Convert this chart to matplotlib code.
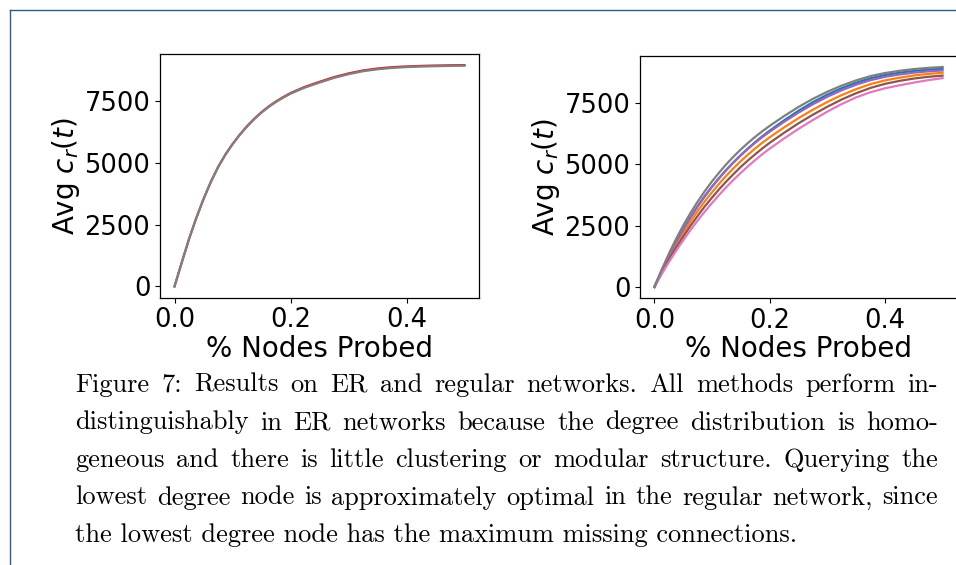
import matplotlib
matplotlib.use("Agg")
import matplotlib.pyplot as plt
from matplotlib.lines import Line2D

# fraction of nodes probed (shared x grid)
frac = [0.0, 0.0125, 0.025, 0.0375, 0.05, 0.0625, 0.075, 0.0875, 0.1, 0.1125,
        0.125, 0.1375, 0.15, 0.1625, 0.175, 0.1875, 0.2, 0.225, 0.25, 0.275,
        0.3, 0.325, 0.35, 0.375, 0.4, 0.425, 0.45, 0.475, 0.5]

# ER network: all methods overlap, only red and gray are visible
er_gray = [0, 970, 1920, 2770, 3540, 4230, 4830, 5330, 5760, 6140,
           6480, 6780, 7045, 7275, 7475, 7650, 7810, 8060, 8260, 8450,
           8600, 8720, 8800, 8855, 8888, 8910, 8925, 8936, 8945]
er_red = [0, 970, 1920, 2770, 3540, 4230, 4830, 5335, 5768, 6150,
          6493, 6795, 7062, 7295, 7497, 7674, 7836, 8090, 8292, 8482,
          8632, 8752, 8832, 8885, 8916, 8937, 8952, 8962, 8970]

# regular network
reg_blue = [0, 655, 1265, 1830, 2350, 2835, 3280, 3695, 4080, 4435,
            4768, 5073, 5366, 5636, 5894, 6134, 6356, 6775, 7165, 7515,
            7822, 8085, 8305, 8487, 8618, 8712, 8785, 8838, 8875]
reg_orange = [0, 610, 1180, 1710, 2200, 2660, 3085, 3485, 3855, 4205,
              4533, 4836, 5121, 5386, 5637, 5871, 6088, 6490, 6865, 7210,
              7525, 7805, 8045, 8250, 8400, 8510, 8600, 8665, 8710]
reg_purple = [0, 655, 1265, 1830, 2350, 2835, 3280, 3695, 4080, 4435,
              4768, 5073, 5358, 5621, 5869, 6099, 6313, 6715, 7090, 7430,
              7735, 8000, 8225, 8410, 8545, 8640, 8715, 8768, 8805]
reg_brown = [0, 565, 1095, 1590, 2050, 2485, 2890, 3280, 3635, 3980,
             4298, 4598, 4886, 5151, 5399, 5639, 5861, 6270, 6655, 7005,
             7330, 7625, 7880, 8095, 8260, 8380, 8475, 8545, 8595]
reg_pink = [0, 520, 1010, 1470, 1900, 2315, 2700, 3070, 3415, 3750,
            4068, 4363, 4646, 4911, 5164, 5404, 5626, 6040, 6430, 6790,
            7130, 7440, 7710, 7920, 8080, 8200, 8310, 8410, 8493]
reg_gray = [0, 700, 1350, 1950, 2500, 3005, 3470, 3900, 4295, 4660,
            4998, 5308, 5596, 5861, 6109, 6339, 6551, 6950, 7320, 7650,
            7940, 8190, 8400, 8575, 8700, 8790, 8860, 8910, 8945]

xticks = [0.0, 0.2, 0.4]
yticks = [0, 2500, 5000, 7500]

caption = [
    "Figure 7: Results on ER and regular networks. All methods perform in-",
    "distinguishably in ER networks because the degree distribution is homo-",
    "geneous and there is little clustering or modular structure. Querying the",
    "lowest degree node is approximately optimal in the regular network, since",
    "the lowest degree node has the maximum missing connections.",
]

W, H = 956, 565
fig = plt.figure(figsize=(W / 100, H / 100), dpi=100)


def px_axes(left, top, right, bottom):
    return fig.add_axes([left / W, 1 - bottom / H, (right - left) / W, (bottom - top) / H])


ax1 = px_axes(160, 54, 479, 297.5)
ax1.plot(frac, er_red, color="#d62728", lw=1.6)
ax1.plot(frac, er_gray, color="#7f7f7f", lw=1.6)

ax2 = px_axes(640, 56, 957, 298)
for ys, c in [(reg_blue, "#1f77b4"), (reg_orange, "#ff7f0e"), (reg_purple, "#9467bd"),
              (reg_brown, "#8c564b"), (reg_pink, "#e377c2"), (reg_gray, "#7f7f7f")]:
    ax2.plot(frac, ys, color=c, lw=1.6)

for ax in (ax1, ax2):
    ax.set_xticks(xticks)
    ax.set_yticks(yticks)
    ax.tick_params(labelsize=18.5, length=3.5, width=0.8)
    ax.set_xlabel("% Nodes Probed", fontsize=20, labelpad=1)
    ax.set_ylabel("Avg $c_r(t)$", fontsize=20, labelpad=2)
    for s in ax.spines.values():
        s.set_linewidth(0.9)

# page frame
blue = "#2e5a8c"
fig.add_artist(Line2D([10 / W, 1], [1 - 10 / H, 1 - 10 / H], color=blue, lw=1.0))
fig.add_artist(Line2D([10 / W, 10 / W], [0, 1 - 10 / H], color=blue, lw=1.0))

# justified caption in a Computer Modern face
renderer = fig.canvas.get_renderer()
probe = fig.text(0, 0, caption[-1], family="cmr10", fontsize=10)
w10 = probe.get_window_extent(renderer).width
probe.remove()
fsize = 10 * 723 / w10

x0, x1 = 75, 938
baselines = [392, 429.5, 467, 504.5, 542]
for i, line in enumerate(caption):
    yb = 1 - baselines[i] / H
    if i == len(caption) - 1:
        fig.text(x0 / W, yb, line, family="cmr10", fontsize=fsize, va="baseline")
        continue
    words = line.split(" ")
    arts = [fig.text(0, yb, w, family="cmr10", fontsize=fsize, va="baseline") for w in words]
    widths = [a.get_window_extent(renderer).width for a in arts]
    gap = (x1 - x0 - sum(widths)) / (len(words) - 1)
    x = x0
    for a, w in zip(arts, widths):
        a.set_x(x / W)
        x += w + gap

fig.savefig("out.png", dpi=100)
